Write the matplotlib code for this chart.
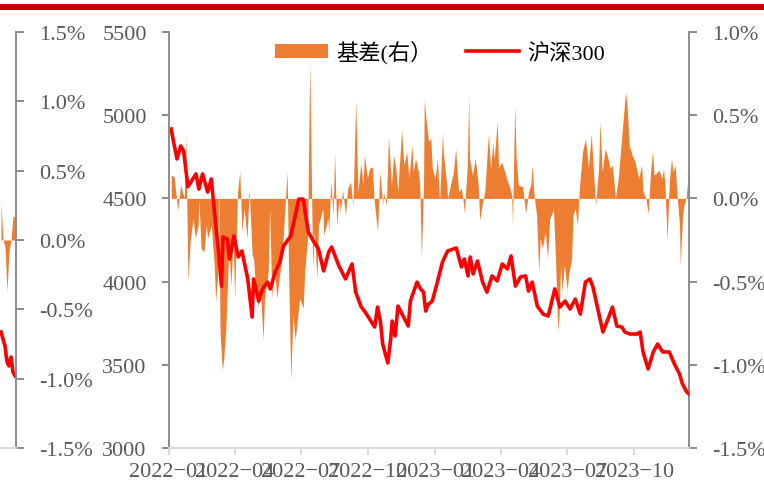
import matplotlib
matplotlib.use("Agg")
import matplotlib.pyplot as plt
import matplotlib.dates as mdates
from matplotlib.ticker import FuncFormatter
import numpy as np
import pandas as pd

# CSI 300 close (left axis)
hs300_dates = [
    "2022-01-04", "2022-01-07", "2022-01-12", "2022-01-17", "2022-01-21", "2022-01-27",
    "2022-02-07", "2022-02-11", "2022-02-16", "2022-02-23", "2022-02-28", "2022-03-07",
    "2022-03-09", "2022-03-14", "2022-03-16", "2022-03-22", "2022-03-25", "2022-03-31",
    "2022-04-06", "2022-04-11", "2022-04-19", "2022-04-25", "2022-04-27", "2022-05-04",
    "2022-05-09", "2022-05-16", "2022-05-20", "2022-05-27", "2022-06-02", "2022-06-07",
    "2022-06-17", "2022-06-23", "2022-06-28", "2022-07-04", "2022-07-11", "2022-07-18",
    "2022-07-25", "2022-08-01", "2022-08-08", "2022-08-12", "2022-08-22", "2022-08-31",
    "2022-09-09", "2022-09-14", "2022-09-21", "2022-09-27", "2022-10-10", "2022-10-14",
    "2022-10-18", "2022-10-21", "2022-10-28", "2022-11-01", "2022-11-03", "2022-11-07",
    "2022-11-11", "2022-11-18", "2022-11-25", "2022-11-28", "2022-12-07", "2022-12-12",
    "2022-12-16", "2022-12-19", "2022-12-22", "2022-12-28", "2023-01-04", "2023-01-11",
    "2023-01-18", "2023-01-30", "2023-02-06", "2023-02-10", "2023-02-15", "2023-02-18",
    "2023-02-22", "2023-02-28", "2023-03-07", "2023-03-13", "2023-03-20", "2023-03-27",
    "2023-04-03", "2023-04-10", "2023-04-15", "2023-04-21", "2023-04-28", "2023-05-05",
    "2023-05-09", "2023-05-14", "2023-05-21", "2023-05-29", "2023-06-05", "2023-06-14",
    "2023-06-21", "2023-06-28", "2023-07-05", "2023-07-12", "2023-07-19", "2023-07-26",
    "2023-08-01", "2023-08-05", "2023-08-12", "2023-08-19", "2023-08-26", "2023-09-01",
    "2023-09-07", "2023-09-14", "2023-09-18", "2023-09-25", "2023-10-05", "2023-10-09",
    "2023-10-13", "2023-10-20", "2023-10-27", "2023-11-02", "2023-11-09", "2023-11-18",
    "2023-11-25", "2023-12-02", "2023-12-06", "2023-12-12", "2023-12-15",
]
hs300_vals = [
    4917, 4845, 4737, 4815, 4785, 4570,
    4647, 4556, 4647, 4538, 4617, 4298,
    4226, 3973, 4268, 4256, 4136, 4274,
    4148, 4184, 4016, 3787, 4016, 3883,
    3956, 3997, 3956, 4064, 4118, 4214,
    4274, 4394, 4496, 4496, 4298, 4244,
    4196, 4064, 4178, 4208, 4094, 4016,
    4106, 3937, 3853, 3817, 3727, 3847,
    3757, 3625, 3511, 3655, 3763, 3673,
    3853, 3793, 3733, 3883, 3997, 3956,
    3937, 3823, 3860, 3883, 3997, 4118,
    4184, 4202, 4088, 4136, 4034, 4148,
    4046, 4124, 3997, 3937, 4034, 4004,
    4106, 4076, 4154, 3973, 4028, 4034,
    3943, 3997, 3853, 3805, 3793, 3956,
    3847, 3883, 3835, 3895, 3805, 3997,
    4016, 3973, 3835, 3697, 3775, 3847,
    3733, 3727, 3697, 3685, 3685, 3697,
    3577, 3475, 3577, 3625, 3577, 3577,
    3505, 3445, 3385, 3336, 3324,
]

# futures basis, % (right axis)
basis_dates = [
    "2022-01-04", "2022-01-08", "2022-01-13", "2022-01-17", "2022-01-22", "2022-01-24",
    "2022-01-27", "2022-01-30", "2022-02-03", "2022-02-06", "2022-02-10", "2022-02-11",
    "2022-02-14", "2022-02-18", "2022-02-21", "2022-02-23", "2022-02-28", "2022-03-04",
    "2022-03-06", "2022-03-09", "2022-03-10", "2022-03-12", "2022-03-15", "2022-03-17",
    "2022-03-20", "2022-03-24", "2022-03-27", "2022-03-30", "2022-04-01", "2022-04-05",
    "2022-04-08", "2022-04-11", "2022-04-14", "2022-04-18", "2022-04-21", "2022-04-25",
    "2022-04-27", "2022-04-30", "2022-05-03", "2022-05-06", "2022-05-10", "2022-05-12",
    "2022-05-17", "2022-05-19", "2022-05-22", "2022-05-25", "2022-05-29", "2022-06-01",
    "2022-06-05", "2022-06-07", "2022-06-12", "2022-06-14", "2022-06-17", "2022-06-20",
    "2022-06-23", "2022-06-27", "2022-06-29", "2022-07-04", "2022-07-06", "2022-07-10",
    "2022-07-13", "2022-07-17", "2022-07-19", "2022-07-23", "2022-07-25", "2022-07-31",
    "2022-08-01", "2022-08-07", "2022-08-08", "2022-08-11", "2022-08-14", "2022-08-16",
    "2022-08-19", "2022-08-22", "2022-08-24", "2022-08-27", "2022-08-31", "2022-09-03",
    "2022-09-07", "2022-09-10", "2022-09-11", "2022-09-14", "2022-09-17", "2022-09-21",
    "2022-09-24", "2022-09-26", "2022-09-30", "2022-10-03", "2022-10-07", "2022-10-09",
    "2022-10-14", "2022-10-17", "2022-10-21", "2022-10-22", "2022-10-26", "2022-10-29",
    "2022-11-02", "2022-11-05", "2022-11-08", "2022-11-11", "2022-11-12", "2022-11-16",
    "2022-11-19", "2022-11-23", "2022-11-26", "2022-11-30", "2022-12-02", "2022-12-05",
    "2022-12-09", "2022-12-11", "2022-12-13", "2022-12-16", "2022-12-17", "2022-12-20",
    "2022-12-23", "2022-12-26", "2022-12-28", "2023-01-01", "2023-01-04", "2023-01-07",
    "2023-01-11", "2023-01-12", "2023-01-17", "2023-01-18", "2023-01-22", "2023-01-26",
    "2023-01-29", "2023-02-02", "2023-02-06", "2023-02-09", "2023-02-10", "2023-02-14",
    "2023-02-16", "2023-02-17", "2023-02-21", "2023-02-25", "2023-03-01", "2023-03-03",
    "2023-03-07", "2023-03-10", "2023-03-15", "2023-03-18", "2023-03-21", "2023-03-23",
    "2023-03-27", "2023-03-29", "2023-04-02", "2023-04-05", "2023-04-09", "2023-04-12",
    "2023-04-16", "2023-04-17", "2023-04-20", "2023-04-22", "2023-04-25", "2023-05-01",
    "2023-05-05", "2023-05-09", "2023-05-12", "2023-05-14", "2023-05-16", "2023-05-20",
    "2023-05-23", "2023-05-25", "2023-05-28", "2023-06-01", "2023-06-04", "2023-06-07",
    "2023-06-11", "2023-06-12", "2023-06-15", "2023-06-18", "2023-06-20", "2023-06-22",
    "2023-06-24", "2023-06-27", "2023-07-01", "2023-07-03", "2023-07-07", "2023-07-09",
    "2023-07-12", "2023-07-15", "2023-07-18", "2023-07-20", "2023-07-22", "2023-07-26",
    "2023-07-29", "2023-07-30", "2023-08-03", "2023-08-06", "2023-08-09", "2023-08-13",
    "2023-08-15", "2023-08-18", "2023-08-22", "2023-08-26", "2023-08-29", "2023-09-01",
    "2023-09-05", "2023-09-09", "2023-09-12", "2023-09-16", "2023-09-19", "2023-09-21",
    "2023-09-24", "2023-09-28", "2023-10-02", "2023-10-07", "2023-10-11", "2023-10-13",
    "2023-10-17", "2023-10-20", "2023-10-23", "2023-10-26", "2023-10-28", "2023-11-02",
    "2023-11-04", "2023-11-08", "2023-11-10", "2023-11-12", "2023-11-15", "2023-11-18",
    "2023-11-21", "2023-11-23", "2023-11-26", "2023-11-29", "2023-12-02", "2023-12-03",
    "2023-12-06", "2023-12-08", "2023-12-11", "2023-12-14", "2023-12-15",
]
basis_vals = [
    0.14, 0.13, -0.07, 0.08, 0.00, 0.38,
    -0.50, -0.26, -0.12, -0.24, -0.16, 0.00,
    -0.30, -0.32, -0.16, -0.24, -0.16, -0.40,
    -0.62, -0.44, 0.10, -0.80, -1.03, -0.97,
    -0.77, -0.30, -0.52, -0.24, -0.60, 0.04,
    0.16, -0.20, -0.06, -0.24, 0.06, -0.34,
    -0.36, -0.56, -0.65, -0.52, -0.85, -0.60,
    -0.44, -0.06, -0.60, -0.40, -0.60, -0.48,
    -0.36, -0.20, 0.16, -0.44, -1.09, -0.70,
    -0.85, -0.69, -0.60, -0.66, -0.44, -0.24,
    0.82, -0.42, -0.20, -0.48, -0.16, -0.06,
    -0.22, -0.12, -0.20, 0.10, -0.10, 0.27,
    -0.16, 0.00, -0.08, 0.05, -0.10, 0.06,
    0.10, -0.04, 0.08, 0.59, 0.04, 0.21,
    0.08, 0.26, 0.12, 0.18, 0.19, 0.00,
    -0.20, 0.16, -0.04, 0.04, -0.04, 0.37,
    0.08, 0.26, 0.18, 0.04, 0.14, 0.41,
    0.20, 0.28, 0.12, 0.32, 0.16, 0.24,
    0.16, 0.06, -0.36, 0.08, 0.59, 0.45,
    0.34, 0.36, 0.18, 0.12, 0.24, -0.02,
    0.40, 0.28, 0.08, 0.00, 0.08, 0.16,
    0.30, 0.04, 0.06, -0.04, -0.09, 0.20,
    0.62, 0.24, 0.14, 0.24, 0.08, -0.13,
    -0.02, 0.04, 0.39, 0.18, 0.33, 0.24,
    0.46, 0.18, 0.22, 0.18, 0.12, 0.08,
    0.02, -0.17, 0.56, 0.24, 0.08, 0.07,
    -0.09, 0.04, 0.08, 0.20, 0.04, -0.10,
    -0.44, -0.24, -0.30, -0.20, -0.36, -0.12,
    -0.08, -0.05, -0.36, -0.80, -0.69, -0.40,
    -0.56, -0.40, -0.55, -0.46, -0.36, -0.10,
    -0.06, -0.16, 0.08, 0.18, 0.28, 0.36,
    0.24, 0.18, 0.39, 0.16, -0.04, 0.18,
    0.46, 0.16, 0.30, 0.24, 0.18, 0.20,
    0.00, 0.12, 0.28, 0.49, 0.64, 0.56,
    0.32, 0.26, 0.22, 0.12, 0.20, 0.04,
    0.00, -0.09, 0.14, 0.29, 0.14, 0.16,
    0.17, 0.12, 0.18, 0.08, -0.25, 0.10,
    0.24, 0.16, 0.20, 0.00, -0.16, -0.40,
    -0.12, -0.04, 0.00, 0.14, 0.16,
]

# tail of the neighbouring chart that is cut off at the left edge
left_line = [3697, 3655, 3613, 3517, 3493, 3547, 3457, 3433]
left_basis = [0.27, 0.00, -0.05, -0.37, -0.08, 0.00, 0.17, 0.17]

ORANGE = "#ED7D31"
RED = "#FF0000"
GRAY = "#8C8C8C"
LIGHT = "#D9D9D9"
TXT = "#595959"
FS = 16

plt.rcParams["font.family"] = ["Liberation Serif", "Noto Sans CJK SC"]

W, H = 764, 481
fig = plt.figure(figsize=(W / 100, H / 100), dpi=100)

def pct(v, pos):
    return "%.1f%%" % (round(v, 2) + 0.0)

bottom = 1 - 449 / H
height = 416 / H

# main chart
ax = fig.add_axes([169 / W, bottom, 520 / W, height])
ax2 = ax.twinx()

hd = pd.to_datetime(hs300_dates)
bd = pd.to_datetime(basis_dates)
ax2.fill_between(bd, 0, basis_vals, color=ORANGE, linewidth=0, label="基差(右）")
line, = ax.plot(hd, hs300_vals, color=RED, linewidth=2.6, label="沪深300")
ax.set_zorder(ax2.get_zorder() + 1)
ax.patch.set_visible(False)

ax.set_xlim(pd.Timestamp("2022-01-01"), pd.Timestamp("2023-12-15"))
ax.set_ylim(3000, 5500)
ax.set_yticks(range(3000, 5501, 500))
ax2.set_ylim(-1.5, 1.0)
ax2.set_yticks(np.arange(-1.5, 1.01, 0.5))
ax2.yaxis.set_major_formatter(FuncFormatter(pct))
ax.xaxis.set_major_locator(mdates.MonthLocator(bymonth=[1, 4, 7, 10]))
ax.xaxis.set_major_formatter(mdates.DateFormatter("%Y\u2212%m"))

for s in ["top", "right"]:
    ax.spines[s].set_visible(False)
for s in ["top", "left", "bottom"]:
    ax2.spines[s].set_visible(False)
ax.spines["left"].set_color(GRAY)
ax.spines["left"].set_linewidth(1.4)
ax.spines["bottom"].set_color(LIGHT)
ax.spines["bottom"].set_linewidth(1.4)
ax2.spines["right"].set_color(GRAY)
ax2.spines["right"].set_linewidth(1.4)

ax.tick_params(axis="y", length=5, width=1.4, color=GRAY, labelcolor=TXT, labelsize=FS, pad=11)
ax.tick_params(axis="x", length=5, width=1.4, color=LIGHT, labelcolor=TXT, labelsize=FS, pad=5)
ax2.tick_params(axis="y", length=6, width=1.4, color=GRAY, labelcolor=TXT, labelsize=FS, pad=10.5)

h1, l1 = ax2.get_legend_handles_labels()
fig.legend(h1 + [line], l1 + ["沪深300"], loc="center", bbox_to_anchor=(440 / W, 1 - 53 / H),
           ncol=2, frameon=False, fontsize=FS, handlelength=2.4, handleheight=0.55,
           handletextpad=0.35, columnspacing=1.5)

# partial neighbour chart on the far left
axl = fig.add_axes([-0.2, bottom, 0.2 + 16 / W, height])
axl3 = axl.twinx()
axl_px = (0.2 + 16 / W) * W
idx = np.arange(len(left_basis))
axl.set_xlim(idx[-1] + 0.5 - axl_px / 2, idx[-1] + 0.5)
axl.fill_between(idx, 0, left_basis, color=ORANGE, linewidth=0)
axl.set_ylim(-1.5, 1.5)
axl.yaxis.tick_right()
axl.set_yticks(np.arange(-1.5, 1.51, 0.5))
axl.yaxis.set_major_formatter(FuncFormatter(pct))
axl.set_xticks([])
for s in ["top", "left"]:
    axl.spines[s].set_visible(False)
axl.spines["right"].set_color(GRAY)
axl.spines["right"].set_linewidth(1.4)
axl.spines["bottom"].set_color(LIGHT)
axl.spines["bottom"].set_linewidth(1.4)
axl.tick_params(axis="y", length=6, width=1.4, color=GRAY, labelcolor=TXT, labelsize=FS, pad=10.5)

axl3.plot(idx, left_line, color=RED, linewidth=2.6)
axl3.set_ylim(3000, 5500)
axl3.set_yticks([])
axl3.set_zorder(axl.get_zorder() - 1)
for s in axl3.spines.values():
    s.set_visible(False)
axl.set_zorder(axl3.get_zorder() + 1)
axl.patch.set_visible(False)
axl3.patch.set_visible(False)

# red band at the top
fig.add_artist(plt.Rectangle((0, 1 - 11 / H), 1, 6 / H, transform=fig.transFigure,
                             color="#C00000", linewidth=0))

fig.savefig("out.png", dpi=100)
